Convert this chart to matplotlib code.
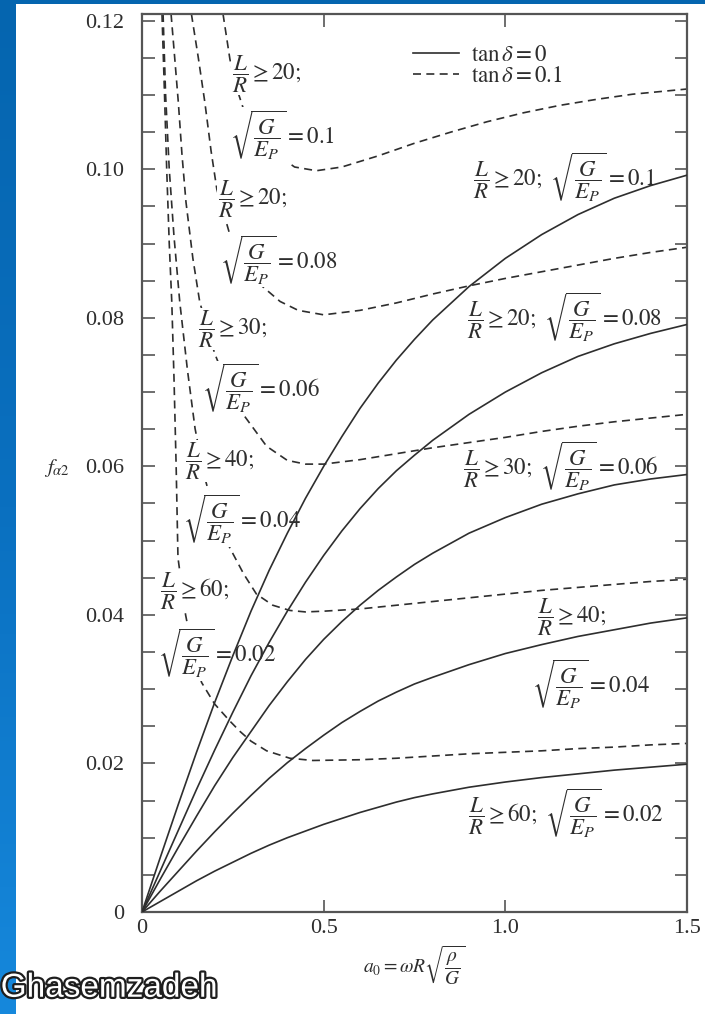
import matplotlib.pyplot as plt
import matplotlib.patheffects as pe
from matplotlib.colors import LinearSegmentedColormap
import numpy as np

plt.rcParams["font.family"] = ["Liberation Serif", "DejaVu Serif"]
plt.rcParams["mathtext.fontset"] = "stix"

# sqrt(G/Ep) and L/R for each pair of curves
stiffness = ["0.1", "0.08", "0.06", "0.04", "0.02"]
slenderness = ["20", "20", "30", "40", "60"]

# tan(delta) = 0, solid curves
a0 = [0.0, 0.05, 0.1, 0.15, 0.2, 0.25, 0.3, 0.35, 0.4, 0.45, 0.5, 0.55, 0.6, 0.65, 0.7, 0.75,
      0.8, 0.9, 1.0, 1.1, 1.2, 1.3, 1.4, 1.5]
f_solid_010 = [0.0, 0.0073, 0.0145, 0.0215, 0.0282, 0.0345, 0.0405, 0.0460, 0.0510, 0.0557,
               0.0600, 0.0640, 0.0678, 0.0712, 0.0743, 0.0771, 0.0797, 0.0842, 0.0880, 0.0912,
               0.0939, 0.0961, 0.0978, 0.0992]
f_solid_008 = [0.0, 0.0055, 0.0110, 0.0165, 0.0218, 0.0269, 0.0318, 0.0363, 0.0405, 0.0444,
               0.0480, 0.0513, 0.0543, 0.0570, 0.0594, 0.0615, 0.0635, 0.0670, 0.0700, 0.0726,
               0.0748, 0.0765, 0.0779, 0.0791]
f_solid_006 = [0.0, 0.0044, 0.0087, 0.0129, 0.0170, 0.0208, 0.0243, 0.0278, 0.0310, 0.0340,
               0.0367, 0.0391, 0.0413, 0.0433, 0.0451, 0.0468, 0.0483, 0.0510, 0.0531, 0.0549,
               0.0563, 0.0575, 0.0583, 0.0589]
f_solid_004 = [0.0, 0.0028, 0.0055, 0.0082, 0.0108, 0.0133, 0.0157, 0.0180, 0.0201, 0.0220,
               0.0238, 0.0255, 0.0270, 0.0284, 0.0296, 0.0307, 0.0316, 0.0333, 0.0348, 0.0360,
               0.0371, 0.0380, 0.0389, 0.0396]
f_solid_002 = [0.0, 0.0014, 0.0028, 0.0042, 0.0055, 0.0067, 0.0079, 0.0090, 0.0100, 0.0109,
               0.0118, 0.0126, 0.0134, 0.0141, 0.0148, 0.0154, 0.0159, 0.0168, 0.0175, 0.0181,
               0.0186, 0.0191, 0.0195, 0.0199]

# tan(delta) = 0.1, dashed curves
a0_dash_010 = [0.223, 0.242, 0.26, 0.29, 0.33, 0.365, 0.42, 0.48, 0.55, 0.65, 0.75, 0.85,
               0.95, 1.05, 1.15, 1.25, 1.35, 1.5]
f_dash_010 = [0.1209, 0.1148, 0.1110, 0.1065, 0.1035, 0.1022, 0.1003, 0.0998, 0.1003, 0.1018,
              0.1035, 0.1050, 0.1064, 0.1076, 0.1086, 0.1094, 0.1101, 0.1108]
a0_dash_008 = [0.136, 0.155, 0.173, 0.19, 0.206, 0.24, 0.28, 0.332, 0.38, 0.43, 0.5, 0.6, 0.7,
               0.8, 0.9, 1.0, 1.1, 1.2, 1.3, 1.4, 1.5]
f_dash_008 = [0.1209, 0.1150, 0.1090, 0.1025, 0.0973, 0.0915, 0.0872, 0.0842, 0.0822, 0.0810,
              0.0804, 0.0810, 0.0820, 0.0832, 0.0843, 0.0853, 0.0862, 0.0871, 0.0880, 0.0888,
              0.0895]
a0_dash_006 = [0.080, 0.09, 0.1, 0.11, 0.121, 0.14, 0.159, 0.2, 0.24, 0.283, 0.343, 0.4, 0.45,
               0.5, 0.6, 0.7, 0.8, 0.9, 1.0, 1.1, 1.2, 1.3, 1.4, 1.5]
f_dash_006 = [0.1209, 0.1150, 0.1090, 0.1020, 0.0956, 0.0880, 0.0821, 0.0752, 0.0703, 0.0667,
              0.0627, 0.0608, 0.0603, 0.0603, 0.0609, 0.0617, 0.0625, 0.0632, 0.0639, 0.0647,
              0.0654, 0.0660, 0.0665, 0.0670]
a0_dash_004 = [0.058, 0.065, 0.075, 0.088, 0.104, 0.125, 0.146, 0.17, 0.2, 0.242, 0.28, 0.315,
               0.36, 0.407, 0.45, 0.5, 0.6, 0.7, 0.8, 0.9, 1.0, 1.1, 1.2, 1.3, 1.4, 1.5]
f_dash_004 = [0.1209, 0.1100, 0.1000, 0.0910, 0.0821, 0.0730, 0.0651, 0.0590, 0.0535, 0.0490,
              0.0455, 0.0428, 0.0413, 0.0406, 0.0404, 0.0405, 0.0408, 0.0413, 0.0418, 0.0423,
              0.0428, 0.0433, 0.0437, 0.0441, 0.0445, 0.0448]
a0_dash_002 = [0.055, 0.062, 0.068, 0.075, 0.082, 0.088, 0.094, 0.099, 0.12, 0.14, 0.164, 0.2,
               0.24, 0.27, 0.3, 0.343, 0.407, 0.47, 0.6, 0.7, 0.8, 0.9, 1.0, 1.1, 1.2, 1.3, 1.4, 1.5]
f_dash_002 = [0.1209, 0.1100, 0.1000, 0.0900, 0.0821, 0.0720, 0.0600, 0.0477, 0.0400, 0.0350,
              0.0309, 0.0280, 0.0258, 0.0243, 0.0230, 0.0217, 0.0207, 0.0204, 0.0205, 0.0207,
              0.0210, 0.0213, 0.0215, 0.0217, 0.0220, 0.0222, 0.0225, 0.0227]

solid = [f_solid_010, f_solid_008, f_solid_006, f_solid_004, f_solid_002]
dashed = [(a0_dash_010, f_dash_010), (a0_dash_008, f_dash_008), (a0_dash_006, f_dash_006),
          (a0_dash_004, f_dash_004), (a0_dash_002, f_dash_002)]

ink = "#2e2e2e"
fig = plt.figure(figsize=(7.05, 10.14), dpi=100, facecolor="white")

# slide background strips
left_strip = fig.add_axes([0, 0, 16 / 705, 1])
grad = np.linspace(0, 1, 256).reshape(-1, 1)
slide_blue = LinearSegmentedColormap.from_list("slide", ["#0565af", "#0a70c0", "#1688dc"])
left_strip.imshow(grad, aspect="auto", cmap=slide_blue, extent=[0, 1, 1, 0])
left_strip.axis("off")
top_strip = fig.add_axes([0, 1 - 4 / 1014, 1, 4 / 1014])
top_strip.set_facecolor("#0565af")
top_strip.set_xticks([])
top_strip.set_yticks([])
for s in top_strip.spines.values():
    s.set_visible(False)

ax = fig.add_axes([142 / 705, 102 / 1014, 545 / 705, 898 / 1014])

for i, f in enumerate(solid):
    ax.plot(a0, f, color=ink, lw=1.2, zorder=4, label=r"$\tan\delta = 0$" if i == 0 else None)
for i, (x, f) in enumerate(dashed):
    ax.plot(x, f, color=ink, lw=1.2, dashes=(4.8, 3.2), zorder=1,
            label=r"$\tan\delta = 0.1$" if i == 0 else None)

ax.set_xlim(0, 1.5)
ax.set_ylim(0, 0.1209)
ax.set_xticks([0, 0.5, 1.0, 1.5])
ax.set_xticklabels(["0", "0.5", "1.0", "1.5"])
ax.set_yticks([0, 0.02, 0.04, 0.06, 0.08, 0.10, 0.12])
ax.set_yticklabels(["0", "0.02", "0.04", "0.06", "0.08", "0.10", "0.12"])
ax.set_yticks(np.arange(0, 0.1205, 0.005), minor=True)
ax.tick_params(axis="both", which="both", direction="in", length=9, width=1.2, color="#555555",
               labelsize=16, labelcolor=ink, top=True, right=True)
ax.tick_params(axis="y", pad=13)
ax.tick_params(axis="x", pad=5)
for s in ax.spines.values():
    s.set_linewidth(1.6)
    s.set_color("#555555")

ax.set_xlabel(r"$a_0 = \omega R\sqrt{\dfrac{\rho}{G}}$", fontsize=14, color=ink, labelpad=4)
ax.text(-0.18, 0.494, r"$f_{\alpha 2}$", transform=ax.transAxes, fontsize=15, color=ink,
        ha="left", va="center")

ax.legend(loc="upper left", bbox_to_anchor=(0.477, 0.978), frameon=False, fontsize=16.5,
          handlelength=2.0, handletextpad=0.5, labelspacing=0.0, borderpad=0, labelcolor=ink)

# left labels sit on a white box so the dashed curves run behind them
box = dict(facecolor="white", edgecolor="none", pad=0.5)
lab = dict(fontsize=16.5, color=ink, ha="left", va="center", zorder=3)

# labels beside the dashed curves: (x, y) of the L/R line and of the root line
left_pos = [((0.248, 0.1128), (0.242, 0.1046)),
            ((0.209, 0.0960), (0.215, 0.0878)),
            ((0.154, 0.0785), (0.165, 0.0705)),
            ((0.118, 0.0607), (0.113, 0.0529)),
            ((0.050, 0.0432), (0.044, 0.0348))]
for k in range(5):
    (x1, y1), (x2, y2) = left_pos[k]
    ax.text(x1, y1, r"$\dfrac{L}{R} \geq %s;$" % slenderness[k], bbox=box, **lab)
    ax.text(x2, y2, r"$\sqrt{\dfrac{G}{E_P}} = %s$" % stiffness[k], bbox=box, **lab)

# labels beside the solid curves
right_pos = [(0.911, 0.0989), (0.894, 0.0801), (0.883, 0.0600), None, (0.897, 0.0133)]
for k in range(5):
    if right_pos[k] is None:
        ax.text(1.087, 0.0396, r"$\dfrac{L}{R} \geq %s;$" % slenderness[k], **lab)
        ax.text(1.073, 0.0307, r"$\sqrt{\dfrac{G}{E_P}} = %s$" % stiffness[k], **lab)
        continue
    x, y = right_pos[k]
    ax.text(x, y, r"$\dfrac{L}{R} \geq %s;\ \sqrt{\dfrac{G}{E_P}} = %s$"
            % (slenderness[k], stiffness[k]), **lab)

fig.text(0.001, 0.017, "Ghasemzadeh", fontsize=24, family="Liberation Sans", color="white",
         ha="left", va="baseline",
         path_effects=[pe.withStroke(linewidth=3.2, foreground="#1e1e1e")])

fig.savefig("out.png", dpi=100, facecolor="white")
